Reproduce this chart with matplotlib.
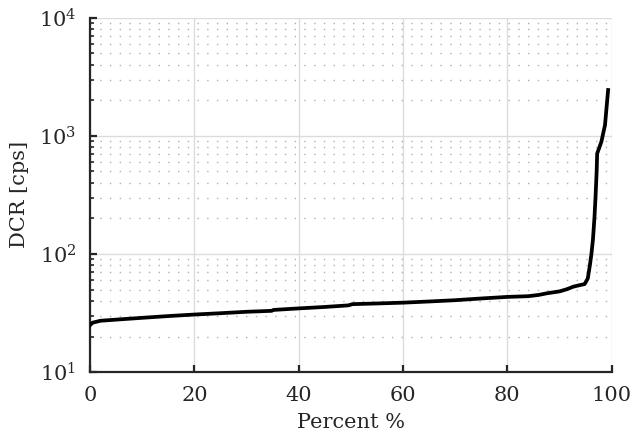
import numpy as np
import matplotlib.pyplot as plt
from matplotlib.ticker import LogLocator, FixedLocator

plt.rcParams['font.family'] = ['DejaVu Serif']
plt.rcParams['mathtext.fontset'] = 'dejavuserif'

# values (percent of pixels vs. dark count rate)
percent = [0, 0.5, 2, 5, 10, 15, 20, 25, 30, 34.8, 35.2, 40, 45, 49.5, 50.3,
           55, 60, 65, 70, 75, 80, 84, 86, 87.5, 89, 90, 91.5, 92.6, 93.5,
           94.8, 95.4, 95.8, 96.1, 96.4, 96.7, 96.9, 97.1, 97.2, 98, 98.7, 99.3]
dcr = [25, 26.2, 27.2, 27.8, 28.8, 29.8, 30.7, 31.5, 32.4, 33.0, 33.6, 34.6,
       35.6, 36.7, 37.6, 38.1, 38.7, 39.6, 40.6, 42.0, 43.3, 43.9, 45.0, 46.4,
       47.5, 48.2, 50.5, 52.8, 54.0, 55.6, 62, 80, 100, 134, 210, 313, 500, 708,
       890, 1233, 2444]

fig, ax = plt.subplots(figsize=(6.32, 4.44), dpi=100)
fig.subplots_adjust(left=0.1425, right=0.968, top=0.96, bottom=0.162)

ax.plot(percent, dcr, color='black', lw=2.7, zorder=3)
ax.set_yscale('log')
ax.set_xlim(0, 100)
ax.set_ylim(10, 1e4)
ax.xaxis.set_major_locator(FixedLocator([0, 20, 40, 60, 80, 100]))
ax.yaxis.set_major_locator(LogLocator(base=10, numticks=10))
ax.yaxis.set_minor_locator(LogLocator(base=10, subs=np.arange(2, 10), numticks=10))

ax.grid(True, which='major', color='#dcdcdc', lw=1.0, ls='-')
ax.grid(True, which='minor', axis='y', color='#b0b0b0', lw=1.0, ls=(0, (1, 6)))
ax.set_axisbelow(True)

for side in ['top', 'right']:
    ax.spines[side].set_visible(False)
for side in ['left', 'bottom']:
    ax.spines[side].set_linewidth(1.6)
    ax.spines[side].set_color('#262626')

ax.tick_params(which='major', direction='in', length=5, width=1.6,
               labelsize=15, colors='#262626', pad=10)
ax.tick_params(which='minor', direction='in', length=3, width=1.2,
               colors='#262626')
ax.tick_params(axis='x', which='minor', bottom=False)

ax.set_xlabel('Percent %', fontsize=15, color='#262626', labelpad=6)
ax.set_ylabel('DCR [cps]', fontsize=15, color='#262626', labelpad=7)

fig.savefig('out.png', dpi=100)
